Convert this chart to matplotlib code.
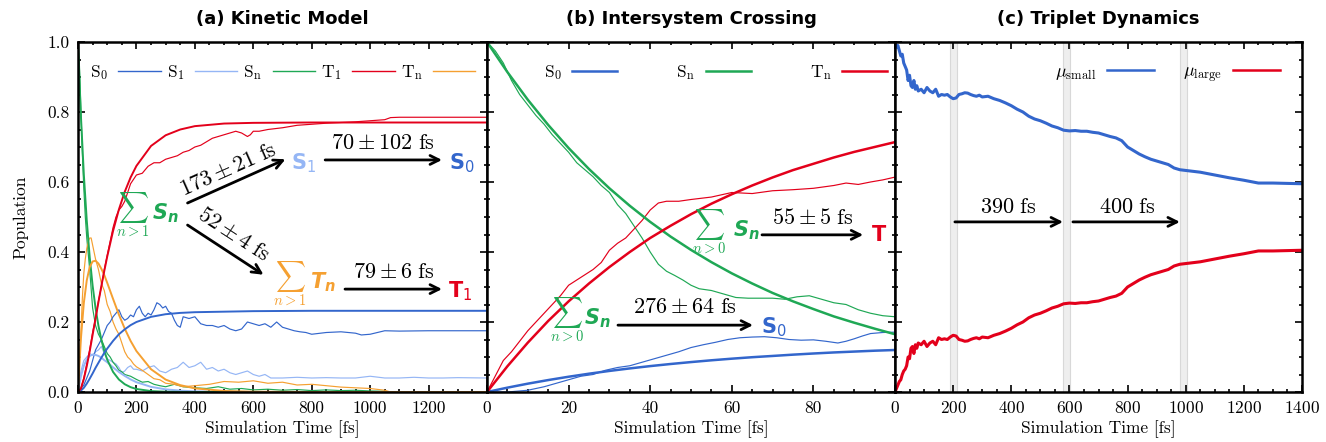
import matplotlib
matplotlib.use("Agg")
import matplotlib.pyplot as plt
from matplotlib.ticker import MultipleLocator
from matplotlib.lines import Line2D

plt.rcParams['font.family'] = 'serif'
plt.rcParams['font.serif'] = ['cmr10', 'DejaVu Serif']
plt.rcParams['mathtext.fontset'] = 'cm'
plt.rcParams['axes.unicode_minus'] = False
plt.rcParams['axes.formatter.use_mathtext'] = True

# ---------------- colours ----------------
C_S0 = '#3366cc'
C_S1 = '#95b6f5'
C_SN = '#1fa855'
C_T1 = '#e3001b'
C_TN = '#f5a031'

# ---------------- panel (a) data ----------------
a_t_fit = [0, 10, 20, 30, 40, 50, 60, 70, 80, 90, 100, 120, 140, 160, 180, 200,
           250, 300, 350, 400, 500, 600, 800, 1000, 1400]
a_Sn_fit = [1.0, 0.788, 0.621, 0.490, 0.386, 0.304, 0.240, 0.189, 0.149, 0.117, 0.0925,
            0.0574, 0.0357, 0.0222, 0.0138, 0.0086, 0.0026, 0.0008, 0.0002, 0, 0, 0, 0, 0, 0]
a_Tn_fit = [0, 0.153, 0.255, 0.319, 0.357, 0.373, 0.375, 0.367, 0.352, 0.334, 0.312,
            0.266, 0.221, 0.181, 0.146, 0.117, 0.065, 0.0355, 0.0196, 0.0104, 0.003, 0.0008, 0, 0, 0]
a_S1_fit = [0, 0.045, 0.075, 0.093, 0.103, 0.107, 0.106, 0.103, 0.098, 0.091, 0.085,
            0.0705, 0.057, 0.046, 0.036, 0.028, 0.0147, 0.0075, 0.0039, 0.0019, 0.0005, 0, 0, 0, 0]
a_T1_fit = [0, 0.010, 0.037, 0.074, 0.116, 0.163, 0.210, 0.257, 0.303, 0.346, 0.387,
            0.460, 0.5215, 0.572, 0.613, 0.646, 0.703, 0.7335, 0.750, 0.7596, 0.767, 0.769, 0.77, 0.77, 0.77]
a_S0_fit = [0, 0.004, 0.012, 0.024, 0.038, 0.053, 0.069, 0.0835, 0.098, 0.112, 0.124,
            0.146, 0.165, 0.179, 0.191, 0.200, 0.2147, 0.2223, 0.226, 0.228, 0.2295, 0.231, 0.232, 0.232, 0.232]

a_Sn_sim = [(0, 1.0), (5, 0.93), (10, 0.80), (15, 0.68), (20, 0.58), (25, 0.50), (30, 0.44),
            (40, 0.35), (50, 0.24), (60, 0.19), (70, 0.165), (80, 0.15), (90, 0.13), (100, 0.11),
            (110, 0.10), (120, 0.085), (130, 0.075), (140, 0.062), (150, 0.058), (160, 0.050),
            (180, 0.045), (200, 0.036), (220, 0.028), (240, 0.030), (260, 0.022), (280, 0.018),
            (300, 0.015), (330, 0.022), (360, 0.015), (400, 0.012), (440, 0.010), (480, 0.015),
            (520, 0.008), (560, 0.010), (600, 0.006), (650, 0.008), (700, 0.005), (750, 0.007),
            (800, 0.004), (850, 0.006), (900, 0.004), (950, 0.005), (1000, 0.003), (1050, 0.002),
            (1060, 0.0)]
a_Tn_sim = [(0, 0), (5, 0.08), (10, 0.17), (15, 0.27), (20, 0.34), (25, 0.38), (30, 0.41),
            (35, 0.43), (40, 0.44), (45, 0.44), (50, 0.42), (55, 0.40), (60, 0.38), (70, 0.35),
            (80, 0.31), (90, 0.29), (100, 0.25), (110, 0.23), (120, 0.20), (130, 0.18), (140, 0.165),
            (150, 0.14), (160, 0.115), (170, 0.10), (180, 0.092), (190, 0.080), (200, 0.072),
            (220, 0.062), (240, 0.050), (260, 0.038), (280, 0.035), (300, 0.025), (330, 0.022),
            (360, 0.015), (400, 0.018), (450, 0.022), (500, 0.030), (550, 0.028), (600, 0.032),
            (650, 0.025), (700, 0.028), (750, 0.020), (800, 0.022), (850, 0.018), (900, 0.014),
            (950, 0.012), (1000, 0.010), (1050, 0.005), (1070, 0.0)]
a_S1_sim = [(0, 0), (10, 0.06), (20, 0.09), (30, 0.10), (40, 0.11), (50, 0.105), (60, 0.115),
            (70, 0.12), (80, 0.13), (90, 0.11), (100, 0.095), (110, 0.09), (120, 0.085), (130, 0.08),
            (140, 0.07), (150, 0.055), (160, 0.06), (170, 0.07), (180, 0.075), (190, 0.065),
            (200, 0.065), (220, 0.06), (240, 0.07), (260, 0.075), (280, 0.06), (300, 0.055),
            (320, 0.065), (340, 0.07), (360, 0.085), (380, 0.07), (400, 0.075), (420, 0.085),
            (440, 0.065), (460, 0.07), (480, 0.06), (500, 0.065), (520, 0.055), (540, 0.05),
            (560, 0.055), (580, 0.06), (600, 0.05), (620, 0.045), (640, 0.05), (660, 0.04),
            (680, 0.04), (700, 0.04), (750, 0.042), (800, 0.04), (850, 0.041), (900, 0.04),
            (950, 0.04), (1000, 0.045), (1050, 0.04), (1100, 0.04), (1150, 0.042), (1200, 0.04),
            (1250, 0.04), (1300, 0.041), (1400, 0.04)]
a_S0_sim = [(0, 0), (20, 0.02), (40, 0.06), (60, 0.12), (80, 0.15), (90, 0.17), (100, 0.19),
            (110, 0.20), (120, 0.215), (130, 0.225), (140, 0.235), (150, 0.215), (160, 0.205),
            (170, 0.21), (180, 0.22), (190, 0.215), (200, 0.235), (210, 0.245), (220, 0.225),
            (230, 0.215), (240, 0.225), (250, 0.22), (260, 0.235), (270, 0.255), (280, 0.25),
            (290, 0.24), (300, 0.245), (310, 0.23), (320, 0.225), (330, 0.205), (340, 0.19),
            (350, 0.185), (360, 0.215), (380, 0.21), (400, 0.215), (420, 0.195), (440, 0.19),
            (460, 0.19), (480, 0.185), (500, 0.19), (520, 0.18), (540, 0.175), (560, 0.18),
            (580, 0.20), (600, 0.195), (620, 0.19), (640, 0.195), (660, 0.185), (680, 0.20),
            (700, 0.185), (720, 0.18), (740, 0.175), (760, 0.172), (780, 0.17), (800, 0.165),
            (850, 0.17), (900, 0.172), (950, 0.168), (970, 0.163), (1000, 0.165), (1050, 0.175),
            (1100, 0.174), (1200, 0.175), (1250, 0.175), (1300, 0.175), (1400, 0.175)]
a_T1_sim = [(0, 0), (10, 0.01), (20, 0.04), (30, 0.08), (40, 0.12), (50, 0.17), (60, 0.21),
            (70, 0.26), (80, 0.30), (90, 0.35), (100, 0.39), (110, 0.43), (120, 0.47), (130, 0.50),
            (140, 0.52), (150, 0.53), (160, 0.545), (170, 0.57), (180, 0.595), (200, 0.62),
            (220, 0.625), (240, 0.645), (260, 0.655), (280, 0.655), (300, 0.665), (320, 0.67),
            (340, 0.675), (360, 0.685), (380, 0.69), (400, 0.70), (420, 0.705), (440, 0.715),
            (460, 0.725), (480, 0.73), (500, 0.735), (520, 0.74), (540, 0.745), (560, 0.74),
            (580, 0.73), (590, 0.735), (600, 0.745), (620, 0.745), (650, 0.75), (700, 0.755),
            (750, 0.762), (800, 0.765), (850, 0.768), (900, 0.77), (950, 0.772), (1000, 0.775),
            (1050, 0.778), (1070, 0.784), (1100, 0.785), (1200, 0.785), (1300, 0.785), (1400, 0.785)]

# ---------------- panel (b) data ----------------
b_t_fit = [0, 5, 10, 15, 20, 25, 30, 35, 40, 45, 50, 55, 60, 65, 70, 75, 80, 85, 90, 95, 100]
b_Sn_fit = [1.0, 0.914, 0.835, 0.763, 0.697, 0.637, 0.582, 0.532, 0.486, 0.444, 0.406,
            0.371, 0.339, 0.310, 0.283, 0.259, 0.237, 0.216, 0.198, 0.181, 0.165]
b_Tn_fit = [0, 0.0735, 0.141, 0.203, 0.259, 0.310, 0.357, 0.400, 0.440, 0.475, 0.508,
            0.538, 0.565, 0.590, 0.613, 0.634, 0.652, 0.670, 0.686, 0.700, 0.714]
b_S0_fit = [0, 0.0124, 0.0238, 0.0341, 0.0436, 0.0523, 0.0602, 0.0674, 0.074, 0.080, 0.0855,
            0.0906, 0.0952, 0.0994, 0.103, 0.1067, 0.110, 0.113, 0.1155, 0.118, 0.120]

b_Sn_sim = [(0, 1.0), (2, 0.975), (4, 0.94), (6, 0.89), (8, 0.85), (10, 0.82), (12, 0.79),
            (14, 0.765), (16, 0.735), (18, 0.71), (20, 0.685), (22, 0.655), (24, 0.635), (26, 0.615),
            (28, 0.59), (30, 0.57), (32, 0.535), (34, 0.51), (36, 0.475), (38, 0.44), (40, 0.40),
            (42, 0.365), (44, 0.345), (46, 0.333), (48, 0.32), (50, 0.305), (52, 0.295), (55, 0.29),
            (58, 0.28), (61, 0.27), (64, 0.268), (67, 0.268), (70, 0.268), (73, 0.265), (76, 0.272),
            (79, 0.275), (82, 0.265), (85, 0.255), (88, 0.25), (91, 0.235), (94, 0.225), (97, 0.218),
            (100, 0.215)]
b_Tn_sim = [(0, 0), (2, 0.045), (4, 0.09), (6, 0.115), (8, 0.145), (10, 0.175), (12, 0.2),
            (14, 0.225), (16, 0.25), (18, 0.275), (20, 0.305), (22, 0.32), (24, 0.335), (26, 0.35),
            (28, 0.37), (30, 0.405), (32, 0.425), (34, 0.44), (36, 0.465), (38, 0.49), (40, 0.52),
            (42, 0.54), (44, 0.545), (47, 0.545), (50, 0.55), (55, 0.557), (60, 0.57), (65, 0.567),
            (70, 0.575), (75, 0.578), (80, 0.582), (85, 0.59), (88, 0.597), (91, 0.593), (94, 0.6),
            (97, 0.606), (100, 0.614)]
b_S0_sim = [(0, 0), (5, 0.0), (10, 0.005), (14, 0.015), (17, 0.025), (20, 0.035), (23, 0.045),
            (26, 0.05), (29, 0.062), (32, 0.07), (35, 0.075), (38, 0.085), (41, 0.095), (44, 0.105),
            (47, 0.115), (50, 0.127), (53, 0.135), (56, 0.142), (59, 0.15), (62, 0.155), (65, 0.157),
            (68, 0.158), (71, 0.155), (74, 0.15), (77, 0.148), (80, 0.149), (83, 0.145), (86, 0.14),
            (88, 0.145), (90, 0.152), (92, 0.16), (94, 0.167), (97, 0.17), (100, 0.171)]

# ---------------- panel (c) data ----------------
c_t = [0, 5, 10, 15, 20, 25, 30, 35, 40, 45, 50, 55, 60, 65, 70, 75, 80,
       90, 100, 110, 120, 130, 140, 150, 160, 170, 180, 190, 200, 210, 220, 230, 240, 250,
       260, 270, 280, 290, 300,
       320, 340, 360, 380, 400, 420, 440, 460, 480, 500, 520, 540, 560, 580, 600, 620, 640,
       660, 680, 700, 720, 740, 760, 780, 800, 820, 840, 860, 880, 900, 920, 940, 960, 980, 1000,
       1050, 1100, 1150, 1200, 1250, 1300, 1350, 1400]
c_small = [1.0, 0.985, 0.99, 0.975, 0.96, 0.965, 0.94, 0.93, 0.92, 0.89, 0.905, 0.875, 0.87,
           0.89, 0.865, 0.875, 0.86,
           0.865, 0.855, 0.87, 0.86, 0.855, 0.865, 0.845, 0.85, 0.848, 0.85, 0.843, 0.838, 0.84,
           0.85, 0.852, 0.855, 0.854, 0.85, 0.847, 0.845, 0.848, 0.843,
           0.845, 0.838, 0.833, 0.826, 0.818, 0.808, 0.80, 0.788, 0.78, 0.775, 0.768, 0.76, 0.755,
           0.748, 0.746, 0.747, 0.745, 0.745, 0.742, 0.74, 0.735, 0.73, 0.726, 0.718, 0.70, 0.69,
           0.68, 0.672, 0.665, 0.66, 0.655, 0.65, 0.64, 0.635, 0.633,
           0.628, 0.62, 0.612, 0.605, 0.597, 0.597, 0.596, 0.595]
c_large = [0, 0.01, 0.02, 0.03, 0.035, 0.05, 0.06, 0.065, 0.075, 0.10, 0.095, 0.125, 0.13,
           0.11, 0.135, 0.125, 0.14,
           0.135, 0.145, 0.13, 0.14, 0.145, 0.135, 0.155, 0.15, 0.152, 0.15, 0.157, 0.162, 0.16,
           0.15, 0.148, 0.145, 0.146, 0.15, 0.153, 0.155, 0.152, 0.157,
           0.155, 0.162, 0.167, 0.174, 0.182, 0.192, 0.20, 0.212, 0.22, 0.225, 0.232, 0.24, 0.245,
           0.252, 0.254, 0.253, 0.255, 0.255, 0.258, 0.26, 0.265, 0.27, 0.274, 0.282, 0.30, 0.31,
           0.32, 0.328, 0.335, 0.34, 0.345, 0.35, 0.36, 0.365, 0.367,
           0.372, 0.38, 0.388, 0.395, 0.403, 0.403, 0.404, 0.405]
c_bands = [(189, 212), (578, 601), (980, 1003)]


def xy(pairs):
    return [p[0] for p in pairs], [p[1] for p in pairs]


W, H = 1326, 442
fig = plt.figure(figsize=(W / 100, H / 100), dpi=100)
bot = 50 / H
hgt = 350 / H
axA = fig.add_axes([78 / W, bot, 409 / W, hgt])
axB = fig.add_axes([487 / W, bot, 408 / W, hgt])
axC = fig.add_axes([895 / W, bot, 407 / W, hgt])

LW_FIT = 1.4
LW_SIM = 0.85

# ---- panel a ----
for pairs, col in [(a_S1_sim, C_S1), (a_Sn_sim, C_SN), (a_Tn_sim, C_TN),
                   (a_S0_sim, C_S0), (a_T1_sim, C_T1)]:
    x, y = xy(pairs)
    axA.plot(x, y, color=col, lw=LW_SIM)
for vals, col in [(a_S1_fit, C_S1), (a_Sn_fit, C_SN), (a_Tn_fit, C_TN),
                  (a_S0_fit, C_S0), (a_T1_fit, C_T1)]:
    axA.plot(a_t_fit, vals, color=col, lw=LW_FIT)

# ---- panel b ----
for pairs, col in [(b_S0_sim, C_S0), (b_Sn_sim, C_SN), (b_Tn_sim, C_T1)]:
    x, y = xy(pairs)
    axB.plot(x, y, color=col, lw=LW_SIM)
for vals, col in [(b_S0_fit, C_S0), (b_Sn_fit, C_SN), (b_Tn_fit, C_T1)]:
    axB.plot(b_t_fit, vals, color=col, lw=1.8)

# ---- panel c ----
for lo, hi in c_bands:
    axC.axvspan(lo, hi, facecolor='#eeeeee', edgecolor='#d8d8d8', lw=0.8, zorder=0)
axC.plot(c_t, c_small, color=C_S0, lw=2.2)
axC.plot(c_t, c_large, color=C_T1, lw=2.2)

# ---- axes styling ----
for ax in (axA, axB, axC):
    ax.set_ylim(0, 1.0)
    ax.yaxis.set_major_locator(MultipleLocator(0.2))
    ax.yaxis.set_minor_locator(MultipleLocator(0.05))
    ax.tick_params(which='both', direction='in', top=True, right=True, width=1.2,
                   labelsize=12.5, pad=6)
    ax.tick_params(which='major', length=5)
    ax.tick_params(which='minor', length=2.5)
    for s in ax.spines.values():
        s.set_linewidth(1.8)
    ax.set_xlabel('Simulation Time [fs]', fontsize=12.5, labelpad=3)

axA.set_xlim(0, 1400)
axA.xaxis.set_minor_locator(MultipleLocator(50))
axA.set_xticks(range(0, 1401, 200))
axA.set_xticklabels([str(v) for v in range(0, 1201, 200)] + [''])
axA.set_yticks([0, 0.2, 0.4, 0.6, 0.8, 1.0])
axA.set_yticklabels(['0.0', '0.2', '0.4', '0.6', '0.8', '1.0'])
axA.set_ylabel('Population', fontsize=12.5, labelpad=14)

axB.set_xlim(0, 100)
axB.set_xticks(range(0, 101, 20))
axB.set_xticklabels([str(v) for v in range(0, 81, 20)] + [''])
axB.xaxis.set_minor_locator(MultipleLocator(5))
axB.tick_params(labelleft=False)

axC.set_xlim(0, 1400)
axC.set_xticks(range(0, 1401, 200))
axC.xaxis.set_minor_locator(MultipleLocator(50))
axC.tick_params(labelleft=False)

TFONT = dict(family='DejaVu Sans', weight='bold', size=13)
axA.set_title('(a) Kinetic Model', pad=13, **TFONT)
axB.set_title('(b) Intersystem Crossing', pad=13, **TFONT)
axC.set_title('(c) Triplet Dynamics', pad=13, **TFONT)

# ---- legends ----
legA_h = [Line2D([], [], color=c, lw=1.0) for c in (C_S0, C_S1, C_SN, C_T1, C_TN)]
legA_l = [r'$\mathrm{S}_0$', r'$\mathrm{S}_1$', r'$\mathrm{S}_\mathrm{n}$',
          r'$\mathrm{T}_1$', r'$\mathrm{T}_\mathrm{n}$']
axA.legend(legA_h, legA_l, loc='upper center', bbox_to_anchor=(0.5, 0.985), ncol=5,
           frameon=False, markerfirst=False, handlelength=2.45, handletextpad=0.6,
           columnspacing=0.35, fontsize=12.5)

legB_h = [Line2D([], [], color=c, lw=1.8) for c in (C_S0, C_SN, C_T1)]
legB_l = [r'$\mathrm{S}_0$', r'$\mathrm{S}_\mathrm{n}$', r'$\mathrm{T}_\mathrm{n}$']
axB.legend(legB_h, legB_l, loc='upper center', bbox_to_anchor=(0.56, 0.985), ncol=3,
           frameon=False, markerfirst=False, handlelength=2.6, handletextpad=0.6,
           columnspacing=3.4, fontsize=12.5)

legC_h = [Line2D([], [], color=c, lw=1.8) for c in (C_S0, C_T1)]
legC_l = [r'$\mu_\mathrm{small}$', r'$\mu_\mathrm{large}$']
axC.legend(legC_h, legC_l, loc='upper right', bbox_to_anchor=(0.985, 0.985), ncol=2,
           frameon=False, markerfirst=False, handlelength=2.6, handletextpad=0.6,
           columnspacing=1.6, fontsize=13)

# ---- annotations ----
ARW = dict(arrowstyle='->', lw=2.0, color='black', mutation_scale=16,
           shrinkA=0, shrinkB=0)


def arrow(ax, x0, y0, x1, y1):
    ax.annotate('', xy=(x1, y1), xytext=(x0, y0), arrowprops=ARW)


def rate(ax, x, y, s, rot=0):
    ax.text(x, y, s, ha='center', va='center', rotation=rot, fontsize=16,
            rotation_mode='anchor')


def state(ax, x, y, s, col):
    ax.text(x, y, s, ha='center', va='center', color=col, fontsize=15,
            math_fontfamily='dejavusans')


def sumlab(ax, x_sig, x_sym, y, lower, sym, col):
    ax.text(x_sig, y, r'$\sum_{' + lower + r'}$', ha='center', va='center', color=col,
            fontsize=15)
    ax.text(x_sym, y + 0.005, sym, ha='center', va='center', color=col, fontsize=15,
            math_fontfamily='dejavusans')


# panel a
sumlab(axA, 188, 300, 0.505, 'n>1', r'$\mathbfit{S}_\mathbfit{n}$', C_SN)
arrow(axA, 375, 0.54, 710, 0.665)
rate(axA, 515, 0.635, r'$\mathsf{173} \pm \mathsf{21}\ \mathrm{fs}$', rot=24)
state(axA, 771, 0.654, r'$\mathbf{S}_1$', C_S1)
arrow(axA, 846, 0.663, 1246, 0.663)
rate(axA, 1044, 0.71, r'$\mathsf{70} \pm \mathsf{102}\ \mathrm{fs}$')
state(axA, 1314, 0.654, r'$\mathbf{S}_0$', C_S0)
arrow(axA, 375, 0.477, 635, 0.335)
rate(axA, 531, 0.449, r'$\mathsf{52} \pm \mathsf{4}\ \mathrm{fs}$', rot=-33)
sumlab(axA, 726, 839, 0.31, 'n>1', r'$\mathbfit{T}_\mathbfit{n}$', C_TN)
arrow(axA, 914, 0.294, 1246, 0.294)
rate(axA, 1080, 0.343, r'$\mathsf{79} \pm \mathsf{6}\ \mathrm{fs}$')
state(axA, 1308, 0.288, r'$\mathbf{T}_1$', C_T1)

# panel b
sumlab(axB, 54.5, 63.5, 0.457, 'n>0', r'$\mathbfit{S}_\mathbfit{n}$', C_SN)
arrow(axB, 67.4, 0.449, 92.2, 0.449)
rate(axB, 79.9, 0.497, r'$\mathsf{55} \pm \mathsf{5}\ \mathrm{fs}$')
state(axB, 96.0, 0.449, r'$\mathbf{T}$', C_T1)
sumlab(axB, 19.5, 27.0, 0.205, 'n>0', r'$\mathbfit{S}_\mathbfit{n}$', C_SN)
arrow(axB, 32.1, 0.191, 65.2, 0.191)
rate(axB, 48.5, 0.243, r'$\mathsf{276} \pm \mathsf{64}\ \mathrm{fs}$')
state(axB, 70.3, 0.186, r'$\mathbf{S}_0$', C_S0)

# panel c
arrow(axC, 206, 0.486, 578, 0.486)
axC.text(389, 0.529, r'$\mathrm{390\ fs}$', ha='center', va='center', fontsize=16)
arrow(axC, 612, 0.486, 980, 0.486)
axC.text(799, 0.529, r'$\mathrm{400\ fs}$', ha='center', va='center', fontsize=16)

fig.savefig('out.png', dpi=100)
